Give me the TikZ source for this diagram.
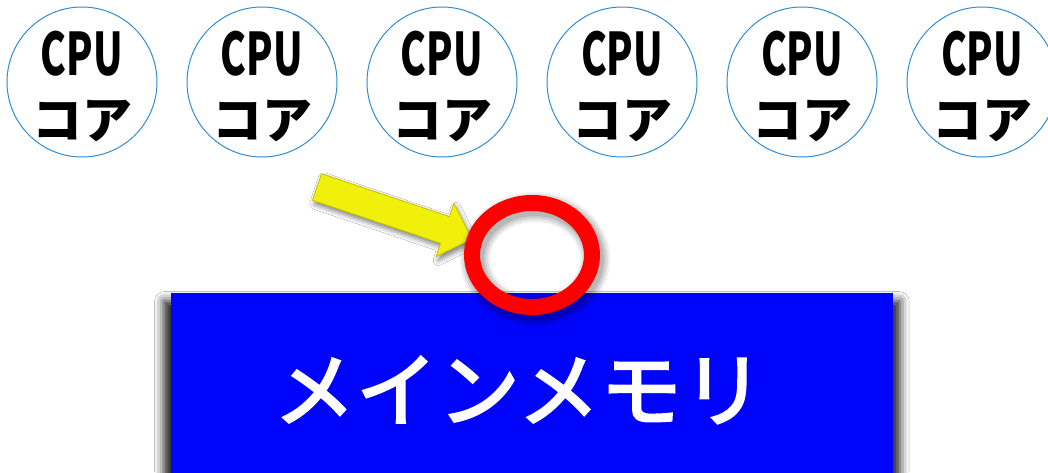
\documentclass[tikz,border=0pt]{standalone}
\usepackage{fontspec}
\newfontfamily\jp{Noto Sans CJK JP}
\newfontfamily\jpm{Noto Sans CJK JP}[FakeBold=3,LetterSpace=1.5]
\usetikzlibrary{shadows.blur,shapes.geometric}
\definecolor{cring}{RGB}{50,140,210}
\definecolor{memblue}{RGB}{0,5,250}
\definecolor{arrowyellow}{RGB}{240,240,10}
\definecolor{arrowedge}{RGB}{195,195,0}
\begin{document}
\begin{tikzpicture}[x=1pt,y=-1pt,
  core/.style={circle,draw=cring,line width=1pt,minimum size=150pt,inner sep=0pt},
  cputext/.style={inner sep=0pt,font=\jp\bfseries\fontsize{58.7}{60}\selectfont},
  coatext/.style={inner sep=0pt,font=\jp\bfseries\fontsize{50}{52}\selectfont},
  membox/.style={fill=memblue,inner sep=0pt,minimum width=721.7pt,minimum height=200pt,
    blur shadow={shadow xshift=0pt,shadow yshift=-10pt,shadow scale=1.02,shadow blur radius=9pt,shadow opacity=90}},
  memtext/.style={inner sep=0pt,text=white,font=\jpm\fontsize{81}{83}\selectfont},
  ringstyle/.style={ellipse,draw=red,line width=16pt,minimum width=120pt,minimum height=104pt,inner sep=0pt},
  yarrow/.style={fill=arrowyellow,draw=arrowedge,line width=0.8pt,line join=round,
    blur shadow={shadow xshift=2pt,shadow yshift=-4pt,shadow blur radius=5pt,shadow opacity=50}}
]
\useasboundingbox (0,0) rectangle (1048,472);
\fill[white] (0,0) rectangle (1048,472);
\foreach \i/\x in {1/82,2/262,3/442,4/622,5/802,6/982} {
  \node[core] (c\i) at (\x,82) {};
  \node[cputext] (cpu\i) at ([yshift=28.5pt]c\i.center) {\scalebox{0.66}[1]{CPU}};
  \node[coatext] (coa\i) at ([yshift=-39pt]c\i.center) {コア};
}
\node[membox] (mem) at (531.85,392.7) {};
\node[memtext] (memtxt) at (519,390) {メインメモリ};
% arrow
\path[yarrow] (321.5,173.7) -- (449.5,216.6) -- (453.9,203.3) -- (472,239)
  -- (436.1,256.5) -- (440.5,243.2) -- (312.5,200.3) -- cycle;
% ring shadow
\foreach \w/\o in {30/0.06,26/0.07,22/0.08,18/0.1} {
  \draw[black,opacity=\o,line width=\w pt] (535,259) ellipse [x radius=60pt,y radius=52pt];
}
\node[ringstyle] (ring) at (532,255) {};
\end{tikzpicture}
\end{document}
